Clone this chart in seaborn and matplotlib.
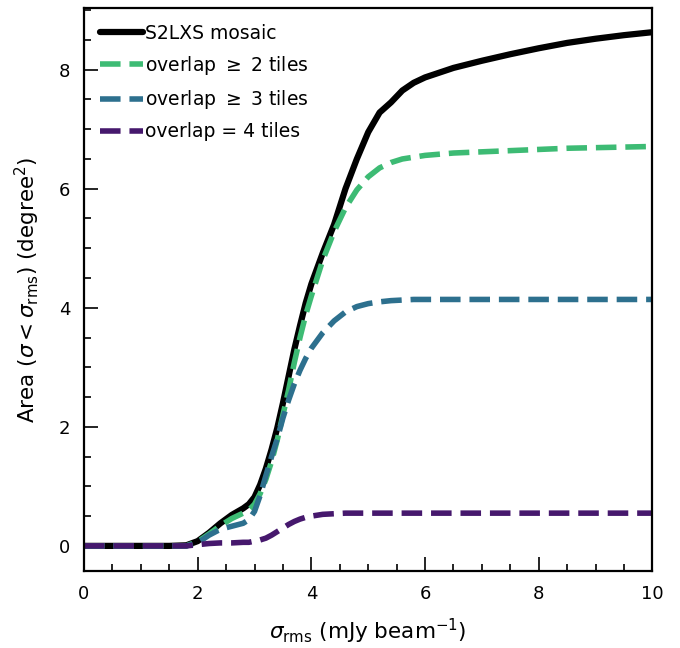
import numpy as np
import pandas as pd
import matplotlib
matplotlib.use('Agg')
import matplotlib.pyplot as plt
from matplotlib.ticker import MultipleLocator
import seaborn as sns

sigma = [0, 0.5, 1.0, 1.5, 1.8, 2.0, 2.2, 2.4, 2.6, 2.8, 2.9, 3.0, 3.1, 3.2, 3.3, 3.4,
         3.5, 3.6, 3.7, 3.8, 3.9, 4.0, 4.2, 4.4, 4.6, 4.8, 5.0, 5.2, 5.4, 5.6, 5.8, 6.0,
         6.5, 7.0, 7.5, 8.0, 8.5, 9.0, 9.5, 10.0]

mosaic = [0, 0, 0, 0, 0.01, 0.08, 0.22, 0.38, 0.52, 0.63, 0.70, 0.82, 1.03, 1.30, 1.62, 1.98,
          2.40, 2.85, 3.30, 3.70, 4.08, 4.40, 4.92, 5.40, 6.00, 6.50, 6.95, 7.28, 7.45, 7.65, 7.78, 7.87,
          8.03, 8.15, 8.26, 8.36, 8.45, 8.52, 8.58, 8.63]
ovl2 = [0, 0, 0, 0, 0, 0.07, 0.20, 0.34, 0.46, 0.55, 0.60, 0.70, 0.88, 1.12, 1.42, 1.78,
        2.20, 2.62, 3.08, 3.50, 3.88, 4.20, 4.80, 5.28, 5.68, 5.98, 6.20, 6.35, 6.44, 6.50, 6.53, 6.56,
        6.60, 6.62, 6.64, 6.66, 6.68, 6.69, 6.70, 6.71]
ovl3 = [0, 0, 0, 0, 0, 0.05, 0.18, 0.28, 0.33, 0.38, 0.44, 0.58, 0.85, 1.18, 1.50, 1.80,
        2.15, 2.45, 2.72, 2.95, 3.15, 3.32, 3.58, 3.78, 3.93, 4.02, 4.07, 4.10, 4.12, 4.13, 4.14, 4.14,
        4.14, 4.14, 4.14, 4.14, 4.14, 4.14, 4.14, 4.14]
ovl4 = [0, 0, 0, 0, 0, 0.02, 0.04, 0.05, 0.05, 0.06, 0.06, 0.08, 0.10, 0.13, 0.18, 0.24,
        0.30, 0.36, 0.41, 0.45, 0.48, 0.50, 0.53, 0.54, 0.55, 0.55, 0.55, 0.55, 0.55, 0.55, 0.55, 0.55,
        0.55, 0.55, 0.55, 0.55, 0.55, 0.55, 0.55, 0.55]

labels = ['S2LXS mosaic', r'overlap $\geq$ 2 tiles', r'overlap $\geq$ 3 tiles', 'overlap = 4 tiles']
colors = ['black', '#3dbb74', '#2d708e', '#46186d']

df = pd.DataFrame({'sigma': sigma, 'mosaic': mosaic, 'ovl2': ovl2, 'ovl3': ovl3, 'ovl4': ovl4})

sns.set_theme(style='white')
plt.rcParams['font.family'] = ['DejaVu Sans']
plt.rcParams['mathtext.fontset'] = 'dejavusans'
plt.rcParams['text.color'] = 'black'
plt.rcParams['axes.labelcolor'] = 'black'

fig = plt.figure(figsize=(6.8, 6.48), dpi=100)
ax = fig.add_axes([0.1235, 0.119, 0.836, 0.869])

sns.lineplot(data=df, x='sigma', y='mosaic', ax=ax, color=colors[0], lw=4.5, label=labels[0])
sns.lineplot(data=df, x='sigma', y='ovl2', ax=ax, color=colors[1], lw=4, linestyle='--', label=labels[1])
sns.lineplot(data=df, x='sigma', y='ovl3', ax=ax, color=colors[2], lw=4, linestyle='--', label=labels[2])
sns.lineplot(data=df, x='sigma', y='ovl4', ax=ax, color=colors[3], lw=4, linestyle='--', label=labels[3])

ax.set_xlim(0, 10)
ax.set_ylim(-0.42, 9.04)
ax.xaxis.set_major_locator(MultipleLocator(2))
ax.xaxis.set_minor_locator(MultipleLocator(0.5))
ax.yaxis.set_major_locator(MultipleLocator(2))
ax.yaxis.set_minor_locator(MultipleLocator(0.5))
ax.tick_params(which='both', direction='in', bottom=True, left=True, top=False, right=False,
               colors='black', labelcolor='black', width=1.2)
ax.tick_params(which='major', length=10, labelsize=13, pad=10)
ax.tick_params(which='minor', length=5)
for s in ax.spines.values():
    s.set_color('black')
    s.set_linewidth(1.6)

ax.set_xlabel(r'$\sigma_{\rm rms}$ (mJy beam$^{-1}$)', fontsize=15.5, labelpad=10)
ax.set_ylabel(r'Area ($\sigma < \sigma_{\rm rms}$) (degree$^2$)', fontsize=15.5, labelpad=12)

ax.legend(loc='upper left', frameon=False, fontsize=13.5, handlelength=2.3,
          handletextpad=0.1, labelspacing=0.6, borderaxespad=0.45)

fig.savefig('out.png', dpi=100)
